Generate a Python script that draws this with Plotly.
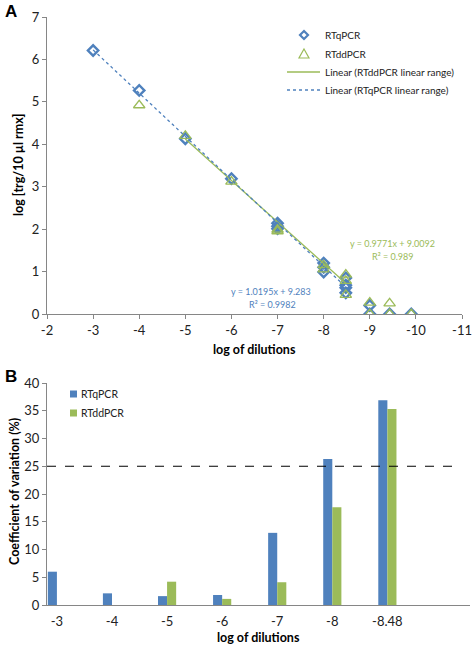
import plotly.graph_objects as go

W, H = 472, 645

# ---------------- Panel A data ----------------
qpcr_x = [-3, -4, -5, -6, -7, -7, -7, -8, -8, -8, -8.48, -8.48, -8.48, -8.48, -9, -9, -9.43, -9.9]
qpcr_y = [6.21, 5.27, 4.13, 3.19, 2.14, 2.07, 2.01, 1.2, 1.1, 0.99, 0.85, 0.68, 0.62, 0.5, 0.2, 0.0, 0.0, 0.0]
ddpcr_x = [-4, -5, -6, -7, -7, -8, -8, -8.48, -8.48, -8.48, -9, -9, -9.43, -9.43, -9.9]
ddpcr_y = [4.92, 4.2, 3.12, 1.99, 1.95, 1.15, 1.05, 0.93, 0.78, 0.45, 0.27, 0.0, 0.25, 0.0, 0.0]

q_slope, q_int = 1.0195, 9.283
d_slope, d_int = 0.9771, 9.0092
q_fit_x = [-3, -8.48]
d_fit_x = [-5, -8.48]

xticks_a = [-2, -3, -4, -5, -6, -7, -8, -9, -10, -11]
yticks_a = [0, 1, 2, 3, 4, 5, 6, 7]

# ---------------- Panel B data ----------------
categories = ["-3", "-4", "-5", "-6", "-7", "-8", "-8.48"]
cv_qpcr = [6.0, 2.1, 1.6, 1.8, 13.0, 26.3, 36.9]
cv_ddpcr = [0, 0, 4.2, 1.1, 4.1, 17.6, 35.3]
yticks_b = [0, 5, 10, 15, 20, 25, 30, 35, 40]
threshold = 25

BLUE = "#4F81BD"
GREEN = "#9BBB59"
AX = "#868686"
FONT = "Lato"
TXT = "#222222"


def px(x):
    return x / W


def py(y):
    return 1 - y / H


fig = go.Figure()

fig.add_trace(go.Scatter(
    x=qpcr_x, y=qpcr_y, mode="markers", name="RTqPCR", showlegend=False,
    marker=dict(symbol="diamond-open", size=8, color=BLUE, line=dict(width=2.4, color=BLUE)),
    xaxis="x", yaxis="y"))
fig.add_trace(go.Scatter(
    x=ddpcr_x, y=ddpcr_y, mode="markers", name="RTddPCR", showlegend=False,
    marker=dict(symbol="triangle-up-open", size=10, color=GREEN, line=dict(width=1.3, color=GREEN)),
    xaxis="x", yaxis="y"))
fig.add_trace(go.Scatter(
    x=d_fit_x, y=[d_slope * v + d_int for v in d_fit_x], mode="lines", showlegend=False,
    name="Linear (RTddPCR linear range)",
    line=dict(color=GREEN, width=1.3), xaxis="x", yaxis="y"))
fig.add_trace(go.Scatter(
    x=q_fit_x, y=[q_slope * v + q_int for v in q_fit_x], mode="lines", showlegend=False,
    name="Linear (RTqPCR linear range)",
    line=dict(color=BLUE, width=1.3, dash="dot"), xaxis="x", yaxis="y"))

fig.add_trace(go.Bar(
    x=categories, y=cv_qpcr, name="RTqPCR", showlegend=False,
    marker=dict(color=BLUE, line=dict(width=0)), xaxis="x2", yaxis="y2"))
fig.add_trace(go.Bar(
    x=categories, y=cv_ddpcr, name="RTddPCR", showlegend=False,
    marker=dict(color=GREEN, line=dict(width=0)), xaxis="x2", yaxis="y2"))

tickfont = dict(family=FONT, size=13, color=TXT)
common = dict(showgrid=False, zeroline=False, showline=True, linecolor=AX, linewidth=1,
              automargin=False, tickfont=tickfont)

fig.update_layout(
    width=W, height=H,
    margin=dict(l=0, r=0, t=0, b=0, autoexpand=False),
    paper_bgcolor="white", plot_bgcolor="white",
    font=dict(family=FONT, size=12, color=TXT),
    barmode="group", bargap=0.67, bargroupgap=0,
    showlegend=False,
    xaxis=dict(domain=[px(47), px(462)], anchor="y", range=[-2, -11],
               tickvals=xticks_a, ticktext=[str(v) for v in xticks_a],
               ticks="outside", ticklen=4, tickcolor=AX, **common),
    yaxis=dict(domain=[py(314), py(17)], anchor="x", range=[0, 7],
               tickvals=yticks_a, ticktext=[str(v) for v in yticks_a],
               ticks="outside", ticklen=4, tickcolor=AX, **common),
    xaxis2=dict(domain=[px(47), px(470)], anchor="y2", type="category",
                categoryorder="array", categoryarray=categories, range=[-0.18, 7.5],
                ticks="", ticklabelstandoff=4, **common),
    yaxis2=dict(domain=[py(605), py(383)], anchor="x2", range=[0, 40],
                tickvals=yticks_b, ticktext=[str(v) for v in yticks_b],
                ticks="outside", ticklen=4, tickcolor=AX, **common),
)

shapes = [dict(type="line", xref="x2", yref="y2", x0=-0.18, x1=7.2, y0=threshold, y1=threshold,
               line=dict(color="black", width=1.2, dash="dash"))]


def ppath(points):
    return "M " + " L ".join(f"{px(x):.5f},{py(y):.5f}" for x, y in points) + " Z"


# Legend A keys
cx, r1, r2, r3, r4 = 304, 35, 54, 72, 90
shapes.append(dict(type="path", xref="paper", yref="paper",
                   path=ppath([(cx, r1 - 4), (cx + 4, r1), (cx, r1 + 4), (cx - 4, r1)]),
                   line=dict(color=BLUE, width=2.2), fillcolor="white"))
shapes.append(dict(type="path", xref="paper", yref="paper",
                   path=ppath([(cx, r2 - 5), (cx + 5, r2 + 4), (cx - 5, r2 + 4)]),
                   line=dict(color=GREEN, width=1.2), fillcolor="rgba(0,0,0,0)"))
shapes.append(dict(type="line", xref="paper", yref="paper", x0=px(287), x1=px(320), y0=py(r3), y1=py(r3),
                   line=dict(color=GREEN, width=1.3)))
shapes.append(dict(type="line", xref="paper", yref="paper", x0=px(287), x1=px(320), y0=py(r4), y1=py(r4),
                   line=dict(color=BLUE, width=1.3, dash="dot")))

# Legend B keys
for yy, col in [(394, BLUE), (413, GREEN)]:
    shapes.append(dict(type="rect", xref="paper", yref="paper",
                       x0=px(70), x1=px(77), y0=py(yy - 3.5), y1=py(yy + 3.5),
                       line=dict(width=0), fillcolor=col))

fig.update_layout(shapes=shapes)

ann = [
    dict(text="<b>A</b>", x=px(3), y=py(12), xanchor="left", font=dict(size=17, family="Liberation Sans", color="black")),
    dict(text="<b>B</b>", x=px(3), y=py(376), xanchor="left", font=dict(size=17, family="Liberation Sans", color="black")),
    dict(text="<b>log [trg/10 µl rmx]</b>", x=px(18), y=py(165), textangle=-90, font=dict(size=12.5, family=FONT, color="black")),
    dict(text="<b>log of dilutions</b>", x=px(254), y=py(349), font=dict(size=12.5, family=FONT, color="black")),
    dict(text="<b>Coefficient of variation (%)</b>", x=px(14), y=py(492), textangle=-90, font=dict(size=12.5, family=FONT, color="black")),
    dict(text="<b>log of dilutions</b>", x=px(258), y=py(637), font=dict(size=12.5, family=FONT, color="black")),
    dict(text="y = 0.9771x + 9.0092", x=px(392), y=py(243), font=dict(size=9, family=FONT, color=GREEN)),
    dict(text="R² = 0.989", x=px(392), y=py(256), font=dict(size=9, family=FONT, color=GREEN)),
    dict(text="y = 1.0195x + 9.283", x=px(271), y=py(291), font=dict(size=9, family=FONT, color=BLUE)),
    dict(text="R² = 0.9982", x=px(272), y=py(304), font=dict(size=9, family=FONT, color=BLUE)),
    # legend texts
    dict(text="RTqPCR", x=px(323), y=py(35), xanchor="left", font=dict(size=10, family=FONT, color=TXT)),
    dict(text="RTddPCR", x=px(323), y=py(54), xanchor="left", font=dict(size=10, family=FONT, color=TXT)),
    dict(text="Linear (RTddPCR linear range)", x=px(323), y=py(72), xanchor="left", font=dict(size=10, family=FONT, color=TXT)),
    dict(text="Linear (RTqPCR linear range)", x=px(323), y=py(90), xanchor="left", font=dict(size=10, family=FONT, color=TXT)),
    dict(text="RTqPCR", x=px(79), y=py(394), xanchor="left", font=dict(size=10.5, family=FONT, color=TXT)),
    dict(text="RTddPCR", x=px(79), y=py(413), xanchor="left", font=dict(size=10.5, family=FONT, color=TXT)),
]
for a in ann:
    a.setdefault("xanchor", "center")
    a.update(xref="paper", yref="paper", showarrow=False, yanchor="middle")
fig.update_layout(annotations=ann)

fig.write_html("out.html", config={"displayModeBar": False},
               post_script="document.body.style.margin='0';document.body.style.padding='0';")
